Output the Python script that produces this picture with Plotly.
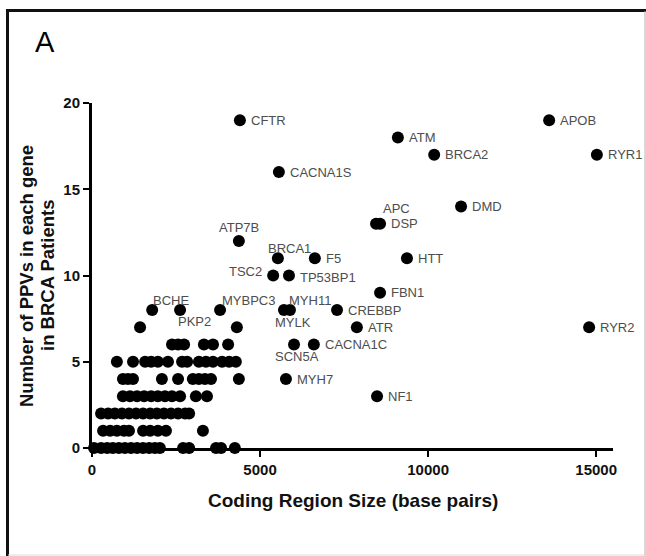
import plotly.graph_objects as go

# ---- Genes with a label: coding region size (bp) and number of PPVs ----
label_genes = ["CFTR", "CACNA1S", "ATP7B", "BRCA1", "F5", "TSC2", "TP53BP1",
               "BCHE", "PKP2", "MYBPC3", "MYLK", "MYH11", "CREBBP", "ATR",
               "FBN1", "SCN5A", "CACNA1C", "MYH7", "NF1", "RYR2", "HTT",
               "DMD", "APC", "DSP", "ATM", "BRCA2", "APOB", "RYR1"]
label_size = [4400, 5560, 4370, 5530, 6630, 5390, 5860,
              1790, 2620, 3810, 5710, 5890, 7290, 7880,
              8570, 6010, 6600, 5770, 8480, 14790, 9370,
              10980, 8450, 8570, 9100, 10180, 13600, 15020]
label_ppv = [19, 16, 12, 11, 11, 10, 10,
             8, 8, 8, 8, 8, 8, 7,
             9, 6, 6, 4, 3, 7, 11,
             14, 13, 13, 18, 17, 19, 17]

# ---- Remaining (unlabelled) genes ----
other_size = [
    # 0 PPVs
    60, 270, 450, 620, 800, 980, 1160, 1340, 1520, 1700, 1870, 2020,
    2710, 2890, 3690, 3840, 4250,
    # 1 PPV
    330, 540, 740, 950, 1100, 1520, 1730, 1960, 2200, 3300,
    # 2 PPVs
    270, 480, 680, 890, 1100, 1310, 1520, 1730, 1930, 2140, 2350, 2560,
    2770, 2890,
    # 3 PPVs
    920, 1130, 1340, 1550, 1760, 1960, 2170, 2380, 2620, 3090, 3420,
    # 4 PPVs
    920, 1070, 1220, 2080, 2560, 3000, 3180, 3360, 3540, 4370,
    # 5 PPVs
    740, 1220, 1580, 1760, 1960, 2260, 2680, 2830, 3180, 3390, 3600, 3870,
    4080, 4280,
    # 6 PPVs
    2380, 2560, 2740, 3330, 3600, 4050,
    # 7 PPVs
    1430, 4310,
]
other_ppv = (
    [0] * 17 + [1] * 10 + [2] * 14 + [3] * 11 + [4] * 10 + [5] * 14
    + [6] * 6 + [7] * 2
)

x_ticks = [0, 5000, 10000, 15000]
y_ticks = [0, 5, 10, 15, 20]

x_title = "Coding Region Size (base pairs)"
y_title_lines = ["Number of PPVs in each gene", "in BRCA Patients"]

# label placement: (xanchor, yanchor, xshift, yshift) in pixels
default_place = ("left", "middle", 9, 0)
special_place = {
    "ATP7B": ("center", "bottom", 0, 4),
    "BRCA1": ("center", "middle", 12, 10),
    "TSC2": ("right", "middle", -9, 4),
    "TP53BP1": ("left", "middle", 9, -2),
    "BCHE": ("center", "middle", 19, 10),
    "PKP2": ("center", "middle", 14, -11),
    "MYBPC3": ("center", "middle", 28, 10),
    "MYH11": ("center", "middle", 20, 10),
    "MYLK": ("center", "middle", 9, -12),
    "SCN5A": ("center", "middle", 3, -12),
    "APC": ("center", "middle", 20, 15),
}

# plot-area geometry (pixels)
W, H = 646, 556
L, R, T, B = 92, 33, 103, 108
PW, PH = W - L - R, H - T - B
FONT = "Liberation Sans, Arial, sans-serif"


def paper_x(px):
    return (px - L) / PW


def paper_y(py):
    return (H - B - py) / PH


fig = go.Figure()

fig.add_trace(go.Scatter(
    x=other_size + label_size,
    y=other_ppv + label_ppv,
    mode="markers",
    marker=dict(size=12, color="black", line=dict(width=0)),
    cliponaxis=False,
    hoverinfo="skip",
    showlegend=False,
))

annotations = []
for g, sx, sy in zip(label_genes, label_size, label_ppv):
    xa, ya, dx, dy = special_place.get(g, default_place)
    annotations.append(dict(
        x=sx, y=sy, xref="x", yref="y", text=g, showarrow=False,
        xanchor=xa, yanchor=ya, xshift=dx, yshift=dy,
        font=dict(family=FONT, size=13, color="#4d4d4d"),
    ))

# panel letter
annotations.append(dict(
    x=paper_x(33), y=paper_y(42), xref="paper", yref="paper", text="A",
    showarrow=False, xanchor="left", yanchor="middle",
    font=dict(family=FONT, size=29, color="black"),
))

# y-axis title, two rotated lines
for txt, cx in zip(y_title_lines, [26, 47]):
    annotations.append(dict(
        x=paper_x(cx), y=paper_y(276), xref="paper", yref="paper",
        text=f"<b>{txt}</b>", textangle=-90, showarrow=False,
        xanchor="center", yanchor="middle",
        font=dict(family=FONT, size=18.5, color="#111111"),
    ))

# x-axis title
annotations.append(dict(
    x=paper_x(353), y=paper_y(500), xref="paper", yref="paper",
    text=f"<b>{x_title}</b>", showarrow=False,
    xanchor="center", yanchor="middle",
    font=dict(family=FONT, size=19, color="#111111"),
))

# figure frame
shapes = [
    dict(type="line", xref="paper", yref="paper",
         x0=paper_x(6), x1=paper_x(646), y0=paper_y(10.5), y1=paper_y(10.5),
         line=dict(color="#111111", width=3)),
    dict(type="line", xref="paper", yref="paper",
         x0=paper_x(7.5), x1=paper_x(7.5), y0=paper_y(9), y1=paper_y(556),
         line=dict(color="#111111", width=3)),
    dict(type="line", xref="paper", yref="paper",
         x0=paper_x(645), x1=paper_x(645), y0=paper_y(11), y1=paper_y(556),
         line=dict(color="#b0b0b0", width=1)),
    dict(type="line", xref="paper", yref="paper",
         x0=paper_x(8), x1=paper_x(645), y0=paper_y(555), y1=paper_y(555),
         line=dict(color="#dddddd", width=1)),
]

axis_font = dict(family=FONT, size=15, color="#111111")

fig.update_layout(
    width=W, height=H,
    margin=dict(l=L, r=R, t=T, b=B, pad=0),
    paper_bgcolor="white", plot_bgcolor="white",
    annotations=annotations,
    shapes=shapes,
    xaxis=dict(
        range=[0, 15500], tickvals=x_ticks,
        ticktext=[f"<b>{v}</b>" for v in x_ticks],
        showgrid=False, zeroline=False, showline=True, linecolor="black",
        linewidth=3, ticks="outside", ticklen=6, tickwidth=2,
        tickcolor="black", tickfont=axis_font, layer="below traces",
    ),
    yaxis=dict(
        range=[0, 20], tickvals=y_ticks,
        ticktext=[f"<b>{v}</b>" for v in y_ticks],
        showgrid=False, zeroline=False, showline=True, linecolor="black",
        linewidth=3, ticks="outside", ticklen=6, tickwidth=2,
        tickcolor="black", tickfont=axis_font, layer="below traces",
    ),
)

fig.write_html("out.html")
